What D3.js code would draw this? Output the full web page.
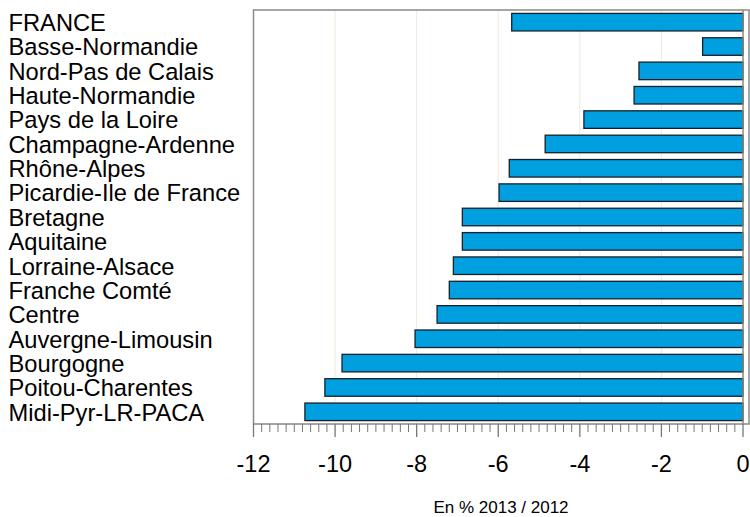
<!DOCTYPE html>
<html><head><meta charset="utf-8">
<script src="https://cdn.jsdelivr.net/npm/d3@7"></script>
<style>body{margin:0;background:#fff}svg{display:block}text{font-family:"Liberation Sans",Arial,sans-serif}</style>
</head><body><svg id="c" width="750" height="517"></svg>
<script>
const categories = ["FRANCE","Basse-Normandie","Nord-Pas de Calais","Haute-Normandie","Pays de la Loire","Champagne-Ardenne","Rhône-Alpes","Picardie-Ile de France","Bretagne","Aquitaine","Lorraine-Alsace","Franche Comté","Centre","Auvergne-Limousin","Bourgogne","Poitou-Charentes","Midi-Pyr-LR-PACA"];
const values = [-5.67,-0.99,-2.55,-2.67,-3.9,-4.85,-5.73,-5.98,-6.88,-6.88,-7.1,-7.2,-7.5,-8.04,-9.83,-10.25,-10.74];
const tickValues = [-12,-10,-8,-6,-4,-2,0];
const axisTitle = "En % 2013 / 2012";

const svg = d3.select("#c");
const L = 253.5, R = 743, T = 10, B = 424, BOXR = 749;
const x = d3.scaleLinear().domain([-12,0]).range([L,R]);
const y = d3.scaleBand().domain(categories).range([T,B]).paddingInner(0.28).paddingOuter(0.14);

// grid lines
svg.append("g").selectAll("line").data(tickValues.filter(v=>v>-12 && v<0)).join("line")
  .attr("x1",d=>x(d)).attr("x2",d=>x(d)).attr("y1",T).attr("y2",B)
  .attr("stroke","#ecebdc").attr("stroke-width",1);

// bars
svg.append("g").selectAll("rect").data(values).join("rect")
  .attr("x",d=>x(d)).attr("width",d=>x(0)-x(d))
  .attr("y",(d,i)=>y(categories[i])).attr("height",y.bandwidth())
  .attr("fill","#009fe0").attr("stroke","#15202b").attr("stroke-width",1.3);

// zero line
svg.append("line").attr("x1",x(0)).attr("x2",x(0)).attr("y1",T).attr("y2",B)
  .attr("stroke","#8a8a82").attr("stroke-width",1.5);

// box
svg.append("rect").attr("x",L).attr("y",T).attr("width",BOXR-L).attr("height",B-T)
  .attr("fill","none").attr("stroke","#8a8a82").attr("stroke-width",1.5);

// minor ticks
const minor = d3.range(0,61).map(i=>-12+i*0.2).filter(v=>Math.abs(Math.round(v/2)*2 - v) > 1e-6);
svg.append("g").selectAll("line").data(minor).join("line")
  .attr("x1",d=>x(d)).attr("x2",d=>x(d)).attr("y1",B).attr("y2",B+8)
  .attr("stroke","#777").attr("stroke-width",1);
// major ticks
svg.append("g").selectAll("line").data(tickValues).join("line")
  .attr("x1",d=>x(d)).attr("x2",d=>x(d)).attr("y1",B).attr("y2",B+13)
  .attr("stroke","#777").attr("stroke-width",1.3);

// tick labels
svg.append("g").selectAll("text").data(tickValues).join("text")
  .attr("x",d=>x(d)).attr("y",472)
  .attr("text-anchor","middle").attr("font-size",23.5).attr("fill","#000")
  .text(d=>d);

// category labels
svg.append("g").selectAll("text").data(categories).join("text")
  .attr("x",8.5).attr("y",d=>y(d)+y.bandwidth()/2+8.8)
  .attr("font-size",23.7).attr("fill","#000").text(d=>d);

// axis title
svg.append("text").attr("x",501).attr("y",513)
  .attr("text-anchor","middle").attr("font-size",17).attr("fill","#000").text(axisTitle);
</script></body></html>
